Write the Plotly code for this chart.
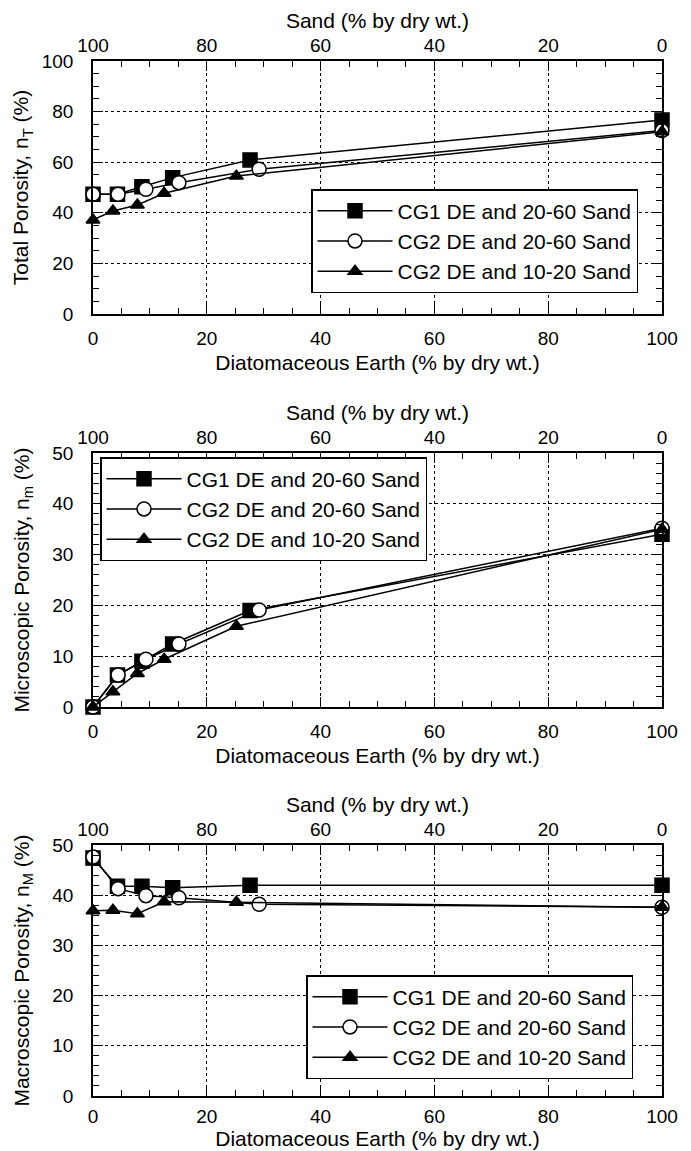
import plotly.graph_objects as go

# ---- data ----
series_names = ["CG1 DE and 20-60 Sand", "CG2 DE and 20-60 Sand", "CG2 DE and 10-20 Sand"]
de_cg1 = [0, 4.3, 8.6, 14.0, 27.6, 100]
de_cg2 = [0, 4.4, 9.3, 15.1, 29.2, 100]
de_cg2s = [0, 3.5, 7.8, 12.5, 25.2, 100]

nT_cg1 = [47.3, 47.3, 50.3, 53.9, 60.9, 76.7]
nT_cg2 = [47.3, 47.3, 49.3, 51.9, 57.2, 72.5]
nT_cg2s = [37.2, 40.7, 43.1, 47.7, 54.5, 72.0]

nm_cg1 = [0.0, 6.3, 9.0, 12.4, 19.0, 34.0]
nm_cg2 = [0.0, 6.3, 9.4, 12.4, 19.1, 35.2]
nm_cg2s = [0.0, 3.0, 6.6, 9.4, 15.9, 35.0]

nM_cg1 = [47.4, 41.8, 41.8, 41.5, 42.0, 42.0]
nM_cg2 = [47.6, 41.3, 39.9, 39.5, 38.2, 37.6]
nM_cg2s = [36.9, 37.0, 36.3, 38.7, 38.6, 37.6]

x_ticks = [0, 20, 40, 60, 80, 100]

y_titles = ["Total Porosity, n<sub>T</sub> (%)",
            "Microscopic Porosity, n<sub>m</sub> (%)",
            "Macroscopic Porosity, n<sub>M</sub> (%)"]
x_title = "Diatomaceous Earth (% by dry wt.)"
top_title = "Sand (% by dry wt.)"

panels = [
    ([nT_cg1, nT_cg2, nT_cg2s], [0, 100], 20, 5),
    ([nm_cg1, nm_cg2, nm_cg2s], [0, 50], 10, 2),
    ([nM_cg1, nM_cg2, nM_cg2s], [0, 50], 10, 2),
]
de_sets = [de_cg1, de_cg2, de_cg2s]
symbols = ["square", "circle", "triangle-up"]
fills = ["black", "white", "black"]
sizes = [14, 14, 12]

W, H = 691, 1151
FONT = "Liberation Sans, Arial, Helvetica, sans-serif"

# panel pixel geometry
x_left, x_right = 93, 662
y_px = [(61, 314), (453, 707), (845, 1096)]
legend_pos = [
    dict(x=638 / W, xanchor="right", y=1 - 189 / H, yanchor="top"),
    dict(x=100 / W, xanchor="left", y=1 - 457 / H, yanchor="top"),
    dict(x=633 / W, xanchor="right", y=1 - 975 / H, yanchor="top"),
]
ytitle_standoff = [7, 17, 17]
xlab_standoff = [6, 6, 2]
xtitle_standoff = [8, 8, 1]

fig = go.Figure()
layout = dict(
    width=W, height=H,
    margin=dict(l=0, r=0, t=0, b=0),
    paper_bgcolor="white", plot_bgcolor="white",
    font=dict(family=FONT, size=19, color="black"),
    showlegend=True,
)

grid = dict(showgrid=True, gridcolor="black", gridwidth=1, griddash="3px,3px")

for i, (ys, yr, dt, mdt) in enumerate(panels):
    xb = 2 * i + 1
    xt = 2 * i + 2
    yi = i + 1
    xb_name = "x" if xb == 1 else f"x{xb}"
    xt_name = f"x{xt}"
    y_name = "y" if yi == 1 else f"y{yi}"
    leg_name = "legend" if i == 0 else f"legend{i + 1}"

    for s in range(3):
        fig.add_trace(go.Scatter(
            x=de_sets[s], y=ys[s], mode="lines+markers", name=series_names[s],
            xaxis=xb_name, yaxis=y_name, legend=leg_name,
            line=dict(color="black", width=1.5),
            marker=dict(symbol=symbols[s], size=sizes[s], color=fills[s],
                        line=dict(color="black", width=1.5)),
            cliponaxis=False, hoverinfo="skip",
        ))
    # invisible trace so the top (sand) axis is drawn
    fig.add_trace(go.Scatter(
        x=[100 - v for v in de_cg1], y=ys[0], mode="markers",
        xaxis=xt_name, yaxis=y_name, showlegend=False,
        marker=dict(opacity=0), hoverinfo="skip",
    ))

    y0, y1 = y_px[i]
    dom_y = [1 - y1 / H, 1 - y0 / H]
    dom_x = [x_left / W, x_right / W]

    layout["xaxis" if xb == 1 else f"xaxis{xb}"] = dict(
        domain=dom_x, anchor=y_name, range=[0, 100], tickvals=x_ticks,
        ticks="inside", ticklen=10, tickwidth=1, tickcolor="black",
        minor=dict(dtick=5, ticks="inside", ticklen=6, tickcolor="black", showgrid=False),
        showline=True, linecolor="black", linewidth=1.5, mirror=False,
        zeroline=False, ticklabelstandoff=xlab_standoff[i], automargin=False,
        title=dict(text=x_title, font=dict(size=21), standoff=xtitle_standoff[i]),
        tickfont=dict(size=19), **grid,
    )
    layout[f"xaxis{xt}"] = dict(
        domain=dom_x, anchor=y_name, overlaying=xb_name, side="top",
        range=[100, 0], tickvals=x_ticks,
        ticks="inside", ticklen=10, tickwidth=1, tickcolor="black",
        minor=dict(dtick=5, ticks="inside", ticklen=6, tickcolor="black", showgrid=False),
        showline=True, linecolor="black", linewidth=1.5, showgrid=False,
        zeroline=False, automargin=False,
        title=dict(text=top_title, font=dict(size=21), standoff=0),
        tickfont=dict(size=19),
    )
    layout["yaxis" if yi == 1 else f"yaxis{yi}"] = dict(
        domain=dom_y, anchor=xb_name, range=yr, dtick=dt,
        ticks="inside", ticklen=10, tickwidth=1, tickcolor="black",
        minor=dict(dtick=mdt, ticks="inside", ticklen=6, tickcolor="black", showgrid=False),
        showline=True, linecolor="black", linewidth=1.5, mirror="ticks",
        zeroline=False, ticklabelstandoff=14, automargin=False,
        title=dict(text=y_titles[i], font=dict(size=21), standoff=ytitle_standoff[i]),
        tickfont=dict(size=19), **grid,
    )
    layout[leg_name] = dict(
        **legend_pos[i], bgcolor="white", bordercolor="black", borderwidth=1.5,
        font=dict(size=21, family=FONT), tracegroupgap=0, itemwidth=75,
    )

fig.update_layout(**layout)
fig.write_html("out.html")
